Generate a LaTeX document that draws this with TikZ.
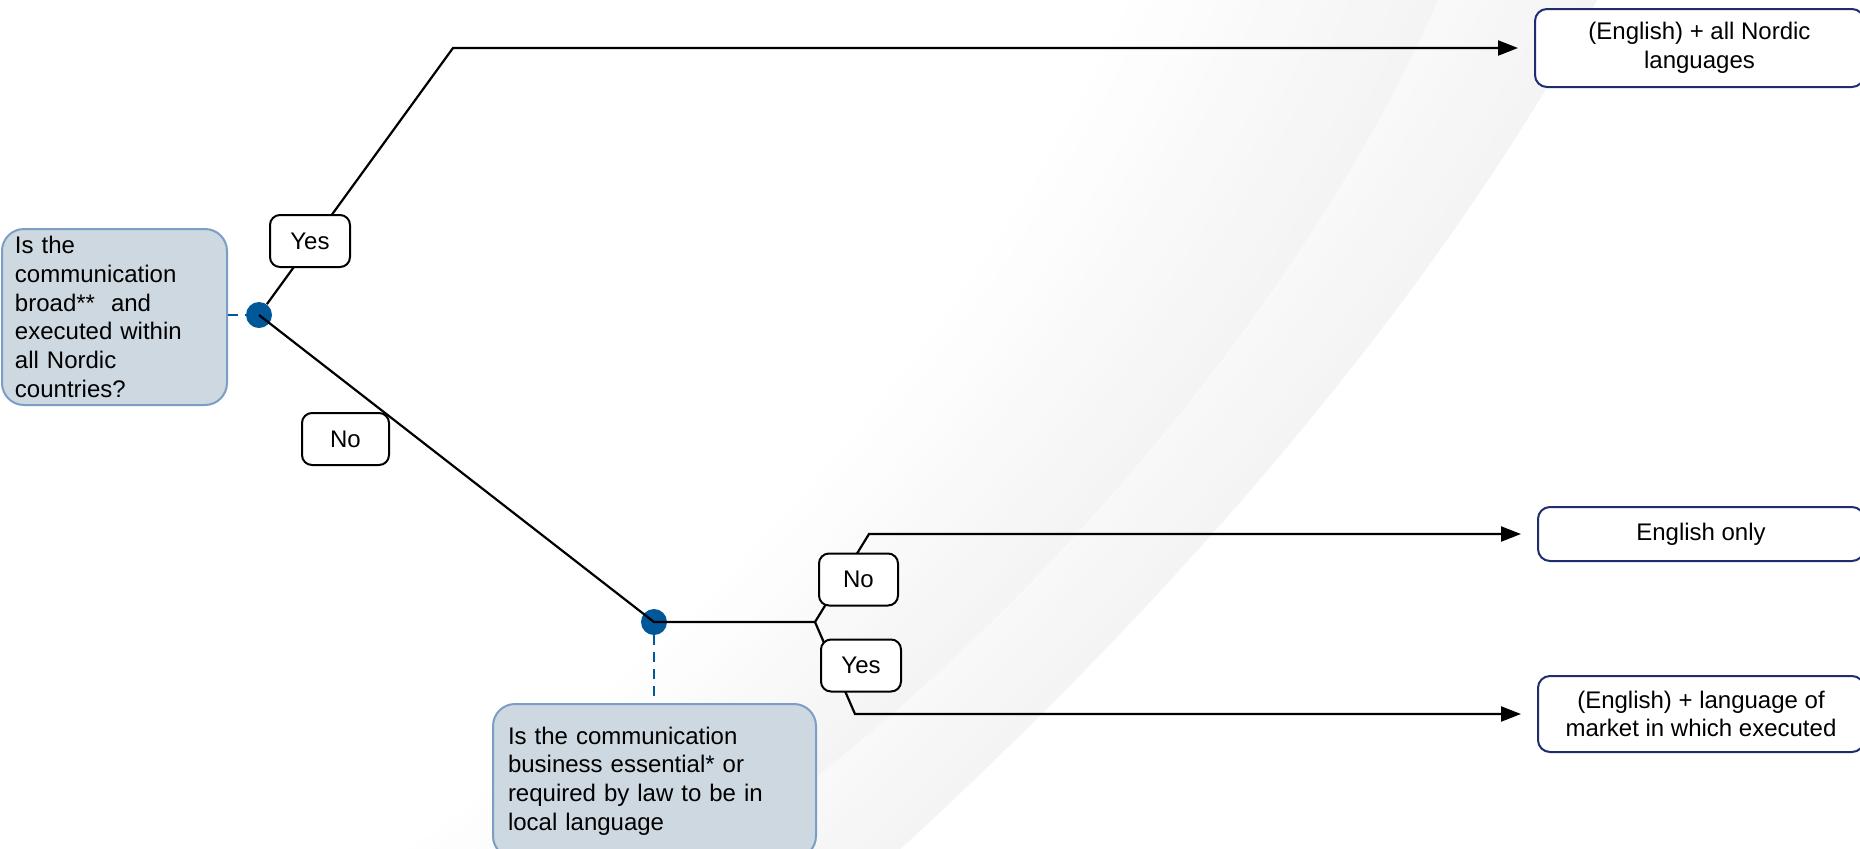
\documentclass[tikz,border=0pt]{standalone}
\usepackage{fontspec}
\setmainfont{Liberation Sans}
\usetikzlibrary{arrows.meta,calc}
\definecolor{qfill}{RGB}{205,216,224}
\definecolor{qline}{RGB}{124,158,198}
\definecolor{dotblue}{RGB}{0,88,152}
\definecolor{navy}{RGB}{31,44,110}
\definecolor{swoosh}{RGB}{244,244,244}
\begin{document}
\begin{tikzpicture}[x=0.5pt,y=-0.5pt,
  every node/.style={font=\fontsize{12}{14.4}\selectfont},
  qbox/.style={draw=qline, line width=1pt, fill=qfill, rounded corners=11pt, align=left},
  rbox/.style={draw=navy, line width=1pt, fill=white, rounded corners=6pt, align=center, inner sep=0pt},
  lbl/.style={draw=black, line width=1pt, fill=white, rounded corners=5pt, minimum height=26pt, minimum width=40pt, inner sep=0pt},
  dotn/.style={circle, fill=dotblue, minimum size=13pt, inner sep=0pt},
  conn/.style={line width=1.1pt, black},
  arr/.style={conn, -{Triangle[length=10pt,width=7.5pt]}, shorten >=8pt},
  dashlink/.style={dotblue, line width=1pt, dash pattern=on 5pt off 3.5pt}
]
\useasboundingbox (0,0) rectangle (1860,848);
% background swooshes
\foreach \i in {0,...,14}{
  \pgfmathsetmacro{\s}{\i*11}
  \pgfmathsetmacro{\p}{100-\i*100/14}
  \fill[swoosh!\p!white, xshift=-\s pt] (1600,-5) .. controls (1435,300) and (1175,598) .. (896,853) -- (-300,853) -- (-300,-5) -- cycle;
}
\foreach \i in {0,...,14}{
  \pgfmathsetmacro{\s}{\i*11}
  \pgfmathsetmacro{\p}{100-\i*100/14}
  \fill[swoosh!\p!white, xshift=-\s pt] (1440,-5) .. controls (1309,300) and (1015,648) .. (712,853) -- (-300,853) -- (-300,-5) -- cycle;
}
% question boxes
\node[qbox, minimum width=112.5pt, minimum height=88pt, text width=99.5pt, inner xsep=6.5pt] (q1) at (114.5,317)
  {Is the\\communication\\broad**\ \ and\\executed within\\all Nordic\\countries?};
\node[qbox, minimum width=161.5pt, minimum height=77pt, text width=146.5pt, inner xsep=7.5pt] (q2) at (654.5,781)
  {Is the communication\\business essential* or\\required by law to be in\\local language};
% result boxes
\node[rbox, minimum width=164.5pt, minimum height=39pt] (r1) at (1699.5,48) {(English) + all Nordic\\languages};
\node[rbox, minimum width=163pt, minimum height=27pt] (r2) at (1701,534) {English only};
\node[rbox, minimum width=163pt, minimum height=38pt] (r3) at (1701,714) {(English) + language of\\market in which executed};
% decision dots
\node[dotn] (d1) at (259,315) {};
\node[dotn] (d2) at (654,622) {};
\coordinate (t1) at (453,48);
\coordinate (j) at (815,622);
\coordinate (t2) at (869,534);
\coordinate (t3) at (855,714);
% dashed links
\draw[dashlink] (d1 -| q1.east) -- (d1);
\draw[dashlink] (d2) -- (d2 |- q2.north);
% connectors
\draw[arr] (d1) -- (t1) -- (t1 -| r1.west);
\draw[conn] (d1.center) -- (d2.center) -- (j);
\draw[arr] (j) -- (t2) -- (t2 -| r2.west);
\draw[arr] (j) -- (t3) -- (t3 -| r3.west);
% labels
\node[lbl] (y1) at (310,241) {Yes};
\node[lbl, minimum width=43.5pt] (n1) at (345.5,439) {No};
\node[lbl, minimum width=39.5pt] (n2) at (858.5,579.5) {No};
\node[lbl] (y2) at (861,665.5) {Yes};
\end{tikzpicture}
\end{document}
